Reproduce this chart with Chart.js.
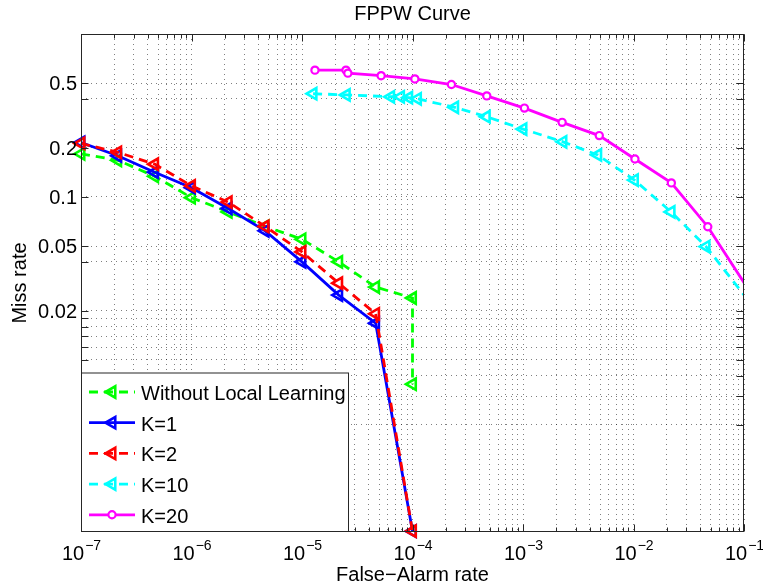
<!DOCTYPE html>
<html>
<head>
<meta charset="utf-8">
<script src="https://cdn.jsdelivr.net/npm/chart.js"></script>
<style>
  html, body { margin: 0; padding: 0; background: #fff; }
  #wrap { width: 763px; height: 588px; }
</style>
</head>
<body>
<div id="wrap"><canvas id="chart" width="763" height="588"></canvas></div>
<script>
// FPPW (false alarm per window) and miss rate
const fppwLow = [1e-7, 2.15e-7, 4.64e-7, 1e-6, 2.15e-6, 4.64e-6, 1e-5, 2.15e-5, 4.64e-5, 1e-4];
const fppwNoLocal = [1e-7, 2.15e-7, 4.64e-7, 1e-6, 2.15e-6, 4.64e-6, 1e-5, 2.15e-5, 4.64e-5, 1e-4, 1e-4];
const missNoLocal = [0.184, 0.168, 0.134, 0.099, 0.081, 0.066, 0.055, 0.040, 0.028, 0.024, 0.0071];
const missK1 = [0.216, 0.179, 0.142, 0.114, 0.085, 0.062, 0.040, 0.025, 0.0168, 0.00089];
const missK2 = [0.213, 0.188, 0.159, 0.117, 0.093, 0.066, 0.046, 0.0296, 0.0192, 0.00089];
const fppwK10 = [1.26e-5, 2.52e-5, 6.35e-5, 7.8e-5, 9.25e-5, 1.11e-4, 2.41e-4, 4.66e-4, 1e-3, 2.3e-3, 4.75e-3, 1.02e-2, 2.19e-2, 4.54e-2, 0.215];
const missK10 = [0.43, 0.423, 0.412, 0.412, 0.407, 0.40, 0.355, 0.311, 0.261, 0.218, 0.181, 0.127, 0.081, 0.0496, 0.0129];
const fppwK20 = [1.31e-5, 2.5e-5, 2.6e-5, 5.2e-5, 1.05e-4, 2.25e-4, 4.7e-4, 1.03e-3, 2.26e-3, 4.9e-3, 1.03e-2, 2.2e-2, 4.7e-2, 0.215];
const missK20 = [0.60, 0.60, 0.575, 0.555, 0.53, 0.49, 0.417, 0.351, 0.287, 0.238, 0.171, 0.122, 0.0657, 0.0134];

const seriesNames = ['Without Local Learning', 'K=1', 'K=2', 'K=10', 'K=20'];

// axes
const xDecades = [1e-7, 1e-6, 1e-5, 1e-4, 1e-3, 1e-2, 1e-1];
const xExponents = ['\u22127', '\u22126', '\u22125', '\u22124', '\u22123', '\u22122', '\u22121'];
const yLabelValues = [0.5, 0.2, 0.1, 0.05, 0.02];
const yLabelText = ['0.5', '0.2', '0.1', '0.05', '0.02'];
const yGridValues = [0.5, 0.4, 0.2, 0.1, 0.05, 0.04, 0.02, 0.018, 0.016, 0.014, 0.012, 0.01, 0.008, 0.006, 0.004];

// minor grid: 1..9 x each decade
const xGridValues = [];
for (let d = 0; d < xDecades.length - 1; d++) {
  for (let m = 1; m <= 9; m++) xGridValues.push(+(m * xDecades[d]).toPrecision(3));
}
xGridValues.push(1e-1);

const FONT = '"Liberation Sans", Arial, Helvetica, sans-serif';

function pts(xs, ys) {
  return xs.map((x, i) => ({ x: x, y: ys[i] }));
}

function series(label, xs, ys, color, dashed, marker, order, clip) {
  const tri = marker === 'triangle';
  return {
    label: label,
    data: pts(xs, ys),
    showLine: true,
    borderColor: color,
    backgroundColor: color,
    borderWidth: 2.8,
    borderDash: dashed ? [9, 6] : [],
    pointStyle: marker,
    pointRotation: tri ? -90 : 0,
    pointRadius: tri ? 6.5 : 3.6,
    pointBorderWidth: tri ? 2.6 : 2.2,
    pointBorderColor: color,
    pointBackgroundColor: tri ? 'rgba(255,255,255,0)' : '#ffffff',
    order: order,
    clip: clip
  };
}

const edgeClip = { left: 12, top: 12, right: 0, bottom: 12 };

function drawMarker(ctx, ds, cx, cy) {
  const r = ds.pointRadius;
  ctx.save();
  ctx.setLineDash([]);
  ctx.lineWidth = ds.pointBorderWidth;
  ctx.strokeStyle = ds.borderColor;
  ctx.fillStyle = ds.pointBackgroundColor;
  ctx.beginPath();
  if (ds.pointStyle === 'circle') {
    ctx.arc(cx, cy, r, 0, Math.PI * 2);
  } else {
    ctx.moveTo(cx - r, cy);
    ctx.lineTo(cx + r / 2, cy - r * Math.sqrt(3) / 2);
    ctx.lineTo(cx + r / 2, cy + r * Math.sqrt(3) / 2);
    ctx.closePath();
  }
  ctx.fill();
  ctx.stroke();
  ctx.restore();
}

const frame = {
  id: 'frame',
  afterDraw(chart) {
    const ctx = chart.ctx;
    const a = chart.chartArea;
    const xs = chart.scales.x, ys = chart.scales.y;
    const L = Math.round(a.left) + 0.5, R = Math.round(a.right) - 0.5;
    const T = Math.round(a.top) + 0.5, B = Math.round(a.bottom) - 0.5;
    ctx.save();

    // tick marks, inward on all four sides
    ctx.strokeStyle = '#262626';
    ctx.lineWidth = 1;
    ctx.beginPath();
    xGridValues.forEach(v => {
      const px = Math.round(xs.getPixelForValue(v)) + 0.5;
      const len = xDecades.includes(v) ? 7 : 4;
      ctx.moveTo(px, B); ctx.lineTo(px, B - len);
      ctx.moveTo(px, T); ctx.lineTo(px, T + len);
    });
    yGridValues.forEach(v => {
      const py = Math.round(ys.getPixelForValue(v)) + 0.5;
      ctx.moveTo(L, py); ctx.lineTo(L + 7, py);
      ctx.moveTo(R, py); ctx.lineTo(R - 7, py);
    });
    ctx.stroke();
    ctx.strokeRect(L, T, R - L, B - T);

    // tick labels
    ctx.fillStyle = '#000';
    ctx.textAlign = 'right';
    ctx.textBaseline = 'alphabetic';
    ctx.font = '20px ' + FONT;
    yLabelValues.forEach((v, i) => {
      ctx.fillText(yLabelText[i], a.left - 4, ys.getPixelForValue(v) + 7);
    });
    ctx.textAlign = 'left';
    xDecades.forEach((v, i) => {
      ctx.font = '20px ' + FONT;
      const wb = ctx.measureText('10').width;
      ctx.font = '14px ' + FONT;
      const we = ctx.measureText(xExponents[i]).width;
      const start = xs.getPixelForValue(v) - (wb + we) / 2;
      ctx.font = '20px ' + FONT;
      ctx.fillText('10', start, 560);
      ctx.font = '14px ' + FONT;
      ctx.fillText(xExponents[i], start + wb + 1, 550);
    });

    // titles
    const cx = (a.left + a.right) / 2;
    ctx.font = '20px ' + FONT;
    ctx.textAlign = 'center';
    ctx.fillText('FPPW Curve', cx, 20);
    ctx.fillText('False\u2212Alarm rate', cx, 581);
    ctx.save();
    ctx.translate(26, (a.top + a.bottom) / 2);
    ctx.rotate(-Math.PI / 2);
    ctx.fillText('Miss rate', 0, 0);
    ctx.restore();

    // legend, lower left inside the axes
    const boxL = L, boxR = L + 267, boxT = B - 158.5;
    ctx.fillStyle = '#fff';
    ctx.fillRect(boxL, boxT, boxR - boxL, B - boxT);
    ctx.strokeStyle = '#262626';
    ctx.lineWidth = 1;
    ctx.strokeRect(boxL, boxT, boxR - boxL, B - boxT);
    chart.data.datasets.forEach((ds, i) => {
      const rowY = 392 + i * 30.7;
      ctx.save();
      ctx.strokeStyle = ds.borderColor;
      ctx.lineWidth = ds.borderWidth;
      ctx.setLineDash(ds.borderDash);
      ctx.beginPath();
      ctx.moveTo(89, rowY);
      ctx.lineTo(135, rowY);
      ctx.stroke();
      ctx.restore();
      drawMarker(ctx, ds, 112, rowY);
      ctx.fillStyle = '#000';
      ctx.textAlign = 'left';
      ctx.font = '20px ' + FONT;
      ctx.fillText(ds.label, 141, rowY + 8);
    });
    ctx.restore();
  }
};

new Chart(document.getElementById('chart'), {
  type: 'scatter',
  data: {
    datasets: [
      series(seriesNames[0], fppwNoLocal, missNoLocal, '#00ff00', true, 'triangle', 5, 12),
      series(seriesNames[1], fppwLow, missK1, '#0000ff', false, 'triangle', 4, 12),
      series(seriesNames[2], fppwLow, missK2, '#ff0000', true, 'triangle', 3, 12),
      series(seriesNames[3], fppwK10, missK10, '#00ffff', true, 'triangle', 2, edgeClip),
      series(seriesNames[4], fppwK20, missK20, '#ff00ff', false, 'circle', 1, edgeClip)
    ]
  },
  options: {
    responsive: false,
    devicePixelRatio: 1,
    animation: false,
    layout: { padding: { left: 81, top: 34, right: 19, bottom: 56 } },
    plugins: { legend: { display: false }, title: { display: false }, tooltip: { enabled: false } },
    scales: {
      x: {
        type: 'logarithmic',
        min: 1e-7,
        max: 1e-1,
        afterBuildTicks: (scale) => { scale.ticks = xGridValues.map(v => ({ value: v })); },
        ticks: { display: false },
        grid: { color: 'rgba(0,0,0,0.5)', lineWidth: 1, drawTicks: false },
        border: { display: false, dash: [1, 4] }
      },
      y: {
        type: 'logarithmic',
        min: 0.00088,
        max: 1,
        afterBuildTicks: (scale) => { scale.ticks = yGridValues.map(v => ({ value: v })); },
        ticks: { display: false },
        grid: { color: 'rgba(0,0,0,0.5)', lineWidth: 1, drawTicks: false },
        border: { display: false, dash: [1, 4] }
      }
    }
  },
  plugins: [frame]
});
</script>
</body>
</html>
